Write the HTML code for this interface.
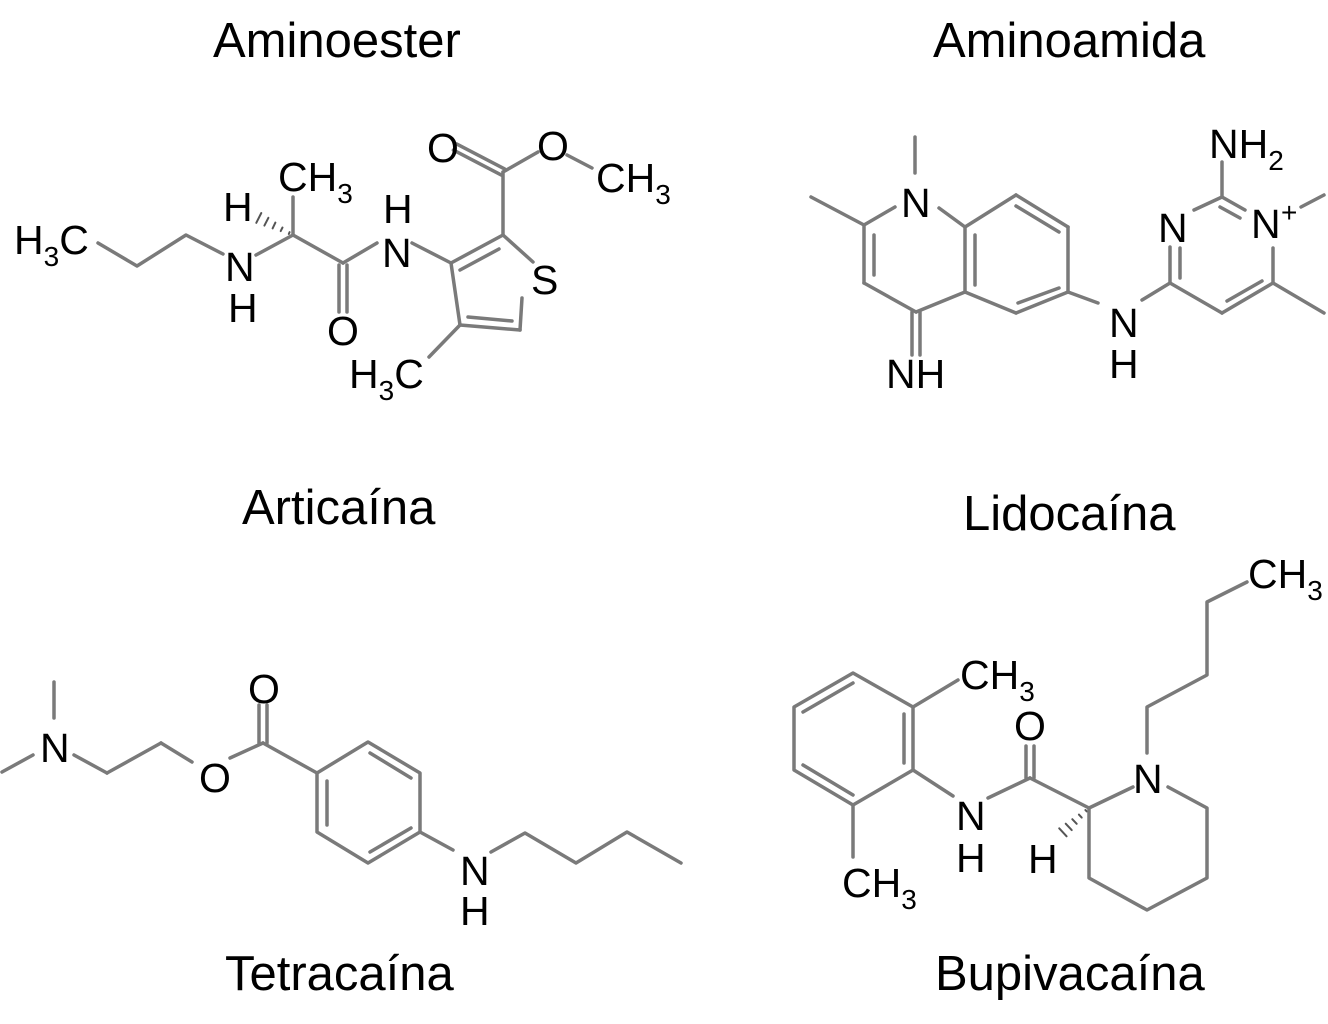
<!DOCTYPE html>
<html><head><meta charset="utf-8"><style>
html,body{margin:0;padding:0;background:#fff;}
svg{display:block}
text{font-family:"Liberation Sans",Arial,sans-serif;fill:#000}
.t{font-size:49px}
.a{font-size:41px}
.s{font-size:28px}
line,polyline{stroke:#7a7a7a;stroke-width:3.5;fill:none;stroke-linecap:round;stroke-linejoin:round}
.h{stroke:#555;stroke-width:2}
</style></head><body>
<svg width="1328" height="1024" viewBox="0 0 1328 1024" xmlns="http://www.w3.org/2000/svg">
<text class="t" x="213" y="57">Aminoester</text>
<text class="t" x="933" y="57">Aminoamida</text>
<text class="t" x="242" y="524">Articaína</text>
<text class="t" x="963" y="530">Lidocaína</text>
<text class="t" x="225" y="990">Tetracaína</text>
<text class="t" x="935" y="990">Bupivacaína</text>

<text class="a" x="14" y="254">H<tspan class="s" dy="12">3</tspan><tspan dy="-12">C</tspan></text>
<polyline points="98,243 137,266 186,235 223,254"/>
<text class="a" x="225" y="281">N</text>
<text class="a" x="223" y="221">H</text>
<text class="a" x="228" y="322">H</text>
<line x1="256" y1="255" x2="293" y2="235"/>
<line x1="293" y1="235" x2="293" y2="197"/>
<text class="a" x="278" y="191">CH<tspan class="s" dy="12">3</tspan></text>
<line class="h" x1="288.8" y1="234" x2="289.6" y2="232.2"/>
<line class="h" x1="280.7" y1="231.1" x2="282.5" y2="227.5"/>
<line class="h" x1="272.6" y1="228.4" x2="275.4" y2="222.6"/>
<line class="h" x1="264.4" y1="225.6" x2="268.4" y2="217.8"/>
<line class="h" x1="256.3" y1="222.8" x2="261.3" y2="213"/>
<line x1="293" y1="235" x2="343" y2="263"/>
<line x1="339" y1="265" x2="339" y2="312"/>
<line x1="347" y1="265" x2="347" y2="312"/>
<text class="a" x="327" y="345">O</text>
<line x1="343" y1="263" x2="377" y2="243"/>
<text class="a" x="382" y="267">N</text>
<text class="a" x="383" y="223">H</text>
<line x1="412" y1="243" x2="451" y2="263"/>
<line x1="451" y1="263" x2="503" y2="235"/>
<line x1="460" y1="270" x2="499" y2="249"/>
<line x1="503" y1="235" x2="533" y2="262"/>
<text class="a" x="531" y="294">S</text>
<line x1="522" y1="298" x2="520" y2="330"/>
<line x1="520" y1="330" x2="460" y2="325"/>
<line x1="512" y1="321" x2="468" y2="317"/>
<line x1="460" y1="325" x2="451" y2="263"/>
<line x1="460" y1="325" x2="429" y2="357"/>
<text class="a" x="349" y="388">H<tspan class="s" dy="12">3</tspan><tspan dy="-12">C</tspan></text>
<line x1="503" y1="235" x2="503" y2="172"/>
<line x1="504.6" y1="168.9" x2="456.6" y2="143.9"/>
<line x1="501.4" y1="175.1" x2="453.4" y2="150.1"/>
<text class="a" x="427" y="162">O</text>
<line x1="503" y1="172" x2="538" y2="152"/>
<text class="a" x="537" y="160">O</text>
<line x1="567" y1="155" x2="592" y2="168"/>
<text class="a" x="596" y="192">CH<tspan class="s" dy="12">3</tspan></text>

<line x1="915" y1="137" x2="915" y2="173"/>
<text class="a" x="901" y="217">N</text>
<line x1="895" y1="207" x2="864" y2="225"/>
<line x1="864" y1="225" x2="811" y2="197"/>
<line x1="864" y1="225" x2="864" y2="283"/>
<line x1="874" y1="235" x2="874" y2="275"/>
<line x1="864" y1="283" x2="916" y2="312"/>
<line x1="912" y1="312" x2="912" y2="355"/>
<line x1="920" y1="312" x2="920" y2="355"/>
<text class="a" x="886" y="388">NH</text>
<line x1="916" y1="312" x2="965" y2="292"/>
<line x1="965" y1="292" x2="965" y2="227"/>
<line x1="975" y1="285" x2="975" y2="235"/>
<line x1="965" y1="227" x2="939" y2="208"/>
<line x1="965" y1="227" x2="1016" y2="195"/>
<line x1="1016" y1="195" x2="1068" y2="227"/>
<line x1="1016" y1="206" x2="1059" y2="232"/>
<line x1="1068" y1="227" x2="1068" y2="292"/>
<line x1="1068" y1="292" x2="1016" y2="313"/>
<line x1="1059" y1="288" x2="1018" y2="303"/>
<line x1="1016" y1="313" x2="965" y2="292"/>
<line x1="1068" y1="292" x2="1098" y2="303"/>
<text class="a" x="1109" y="337">N</text>
<text class="a" x="1109" y="378">H</text>
<line x1="1142" y1="300" x2="1170" y2="283"/>
<line x1="1170" y1="283" x2="1170" y2="247"/>
<line x1="1180" y1="278" x2="1180" y2="248"/>
<text class="a" x="1158" y="242">N</text>
<line x1="1194" y1="210" x2="1222" y2="197"/>
<line x1="1222" y1="197" x2="1245" y2="210"/>
<line x1="1220" y1="207" x2="1240" y2="218"/>
<text class="a" x="1251" y="238">N</text>
<text class="s" x="1281" y="222">+</text>
<line x1="1301" y1="207" x2="1324" y2="195"/>
<line x1="1222" y1="197" x2="1222" y2="162"/>
<text class="a" x="1209" y="158">NH<tspan class="s" dy="12">2</tspan></text>
<line x1="1273" y1="248" x2="1273" y2="283"/>
<line x1="1273" y1="283" x2="1324" y2="313"/>
<line x1="1273" y1="283" x2="1222" y2="313"/>
<line x1="1262" y1="281" x2="1227" y2="301"/>
<line x1="1222" y1="313" x2="1170" y2="283"/>

<line x1="54" y1="682" x2="54" y2="718"/>
<text class="a" x="40" y="762">N</text>
<line x1="2" y1="772" x2="33" y2="755"/>
<line x1="74" y1="755" x2="107" y2="773"/>
<line x1="107" y1="773" x2="161" y2="743"/>
<line x1="161" y1="743" x2="192" y2="762"/>
<text class="a" x="199" y="792">O</text>
<line x1="230" y1="758" x2="263" y2="743"/>
<line x1="259" y1="743" x2="259" y2="705"/>
<line x1="267" y1="743" x2="267" y2="705"/>
<text class="a" x="248" y="703">O</text>
<line x1="263" y1="743" x2="317" y2="773"/>
<polygon points="317,773 368,742 420,773 420,832 368,863 317,832" style="fill:none;stroke:#7a7a7a;stroke-width:3.5;stroke-linejoin:round"/>
<line x1="370" y1="753" x2="411" y2="778"/>
<line x1="411" y1="828" x2="370" y2="852"/>
<line x1="327" y1="781" x2="327" y2="825"/>
<line x1="420" y1="832" x2="453" y2="850"/>
<text class="a" x="460" y="885">N</text>
<text class="a" x="460" y="925">H</text>
<polyline points="491,852 525,833 576,863 627,832 681,863"/>

<polygon points="794,707 853,673 913,707 913,770 853,805 794,770" style="fill:none;stroke:#7a7a7a;stroke-width:3.5;stroke-linejoin:round"/>
<line x1="803" y1="712" x2="853" y2="683"/>
<line x1="904" y1="714" x2="904" y2="763"/>
<line x1="803" y1="765" x2="853" y2="795"/>
<line x1="913" y1="707" x2="958" y2="680"/>
<text class="a" x="960" y="689">CH<tspan class="s" dy="12">3</tspan></text>
<line x1="853" y1="805" x2="853" y2="857"/>
<text class="a" x="842" y="897">CH<tspan class="s" dy="12">3</tspan></text>
<line x1="913" y1="770" x2="953" y2="796"/>
<text class="a" x="956" y="830">N</text>
<text class="a" x="956" y="872">H</text>
<line x1="988" y1="798" x2="1030" y2="778"/>
<line x1="1026" y1="778" x2="1026" y2="746"/>
<line x1="1034" y1="778" x2="1034" y2="746"/>
<text class="a" x="1014" y="740">O</text>
<line x1="1030" y1="778" x2="1089" y2="808"/>
<line x1="1089" y1="808" x2="1133" y2="787"/>
<text class="a" x="1133" y="793">N</text>
<line class="h" x1="1085.4" y1="810" x2="1086.8" y2="811.4"/>
<line class="h" x1="1078.9" y1="814.6" x2="1081.7" y2="817.6"/>
<line class="h" x1="1072.3" y1="819.2" x2="1076.7" y2="823.8"/>
<line class="h" x1="1065.7" y1="823.7" x2="1071.7" y2="830.1"/>
<line class="h" x1="1059.2" y1="828.3" x2="1066.6" y2="836.3"/>
<text class="a" x="1028" y="873">H</text>
<polyline points="1089,808 1089,878 1147,910 1207,878 1207,808 1168,787"/>
<polyline points="1147,753 1147,707 1207,675 1207,602 1247,582"/>
<text class="a" x="1248" y="588">CH<tspan class="s" dy="12">3</tspan></text>
</svg>
</body></html>
